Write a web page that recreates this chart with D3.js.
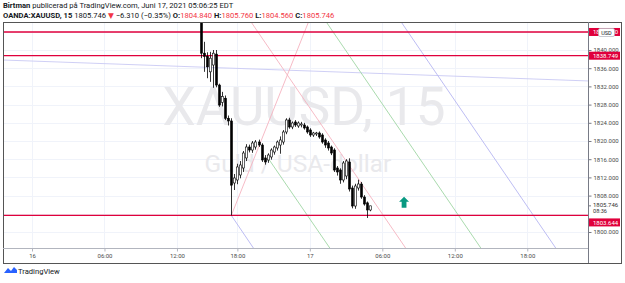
<!DOCTYPE html>
<html>
<head>
<meta charset="utf-8">
<script src="https://cdn.jsdelivr.net/npm/d3@7"></script>
<style>
  body { margin: 0; background: #fff; }
  svg { display: block; font-family: Roboto, "DejaVu Sans", sans-serif; }
</style>
</head>
<body>
<svg id="chart" width="625" height="283"></svg>
<script>
// candles, 15 min bars, index counted from "16" tick
var barIndex = [56,57,58,59,60,61,62,63,64,65,66,67,68,69,70,71,72,73,74,75,76,77,78,79,80,81,82,83,84,
  85,86,87,88,89,90,91,92,93,94,95,96,97,98,99,100,101,102,103,104,105,106,107,108,109,110,111,112];
var opens = [1848.5,1839.3,1838.6,1835.2,1836.7,1839.1,1832.3,1828.5,1829.4,1825.0,1824.4,1810.77,1811.43,
  1812.53,1814.07,1816.27,1818.68,1818.02,1818.68,1819.78,1819.12,1816.27,1815.83,1816.49,1817.58,1818.46,
  1819.12,1819.78,1821.98,1824.62,1823.08,1824.18,1823.30,1823.52,1823.52,1823.08,1822.42,1821.32,1821.54,
  1821.76,1821.32,1820.22,1819.56,1818.68,1818.02,1814.07,1813.63,1811.43,1812.31,1815.39,1809.67,1805.71,
  1809.67,1810.55,1807.69,1806.4,1804.84];
var highs = [1849.6,1841.8,1839.5,1839.6,1840.0,1840.0,1832.6,1830.8,1830.0,1825.6,1825.0,1812.75,1815.0,
  1815.6,1817.8,1819.3,1819.2,1820.0,1820.2,1820.3,1819.5,1816.9,1817.3,1818.4,1819.0,1820.1,1821.0,1822.4,
  1825.0,1825.1,1824.3,1824.6,1824.3,1824.2,1824.0,1823.4,1822.8,1822.0,1822.0,1822.1,1821.7,1820.6,1820.0,
  1819.0,1818.4,1814.5,1814.0,1815.6,1816.0,1816.2,1810.2,1810.6,1811.5,1811.0,1808.1,1806.7,1805.76];
var lows = [1838.2,1835.2,1833.8,1833.0,1831.7,1831.8,1827.5,1827.6,1824.6,1823.4,1803.644,1809.23,1810.5,
  1811.8,1813.2,1815.6,1817.5,1817.4,1818.1,1818.7,1815.4,1814.8,1815.2,1815.9,1817.0,1817.9,1817.2,1819.2,
  1821.5,1822.7,1822.6,1823.1,1822.9,1823.0,1822.5,1821.6,1820.9,1820.9,1821.1,1820.5,1819.4,1818.5,1817.9,
  1816.9,1813.2,1812.4,1810.6,1810.9,1811.6,1808.9,1805.2,1805.1,1809.1,1807.3,1805.8,1803.08,1804.56];
var closes = [1839.3,1838.6,1836.3,1838.2,1839.3,1832.3,1827.9,1829.8,1825.0,1824.4,1810.3,1811.87,1814.29,
  1814.73,1817.36,1818.68,1818.02,1819.56,1819.78,1819.12,1815.83,1815.39,1816.92,1818.02,1818.68,1819.78,
  1820.22,1821.98,1824.62,1823.08,1823.96,1823.52,1823.96,1823.74,1822.86,1821.98,1821.32,1821.76,1821.76,
  1820.88,1819.78,1819.12,1818.46,1817.36,1813.63,1813.19,1811.43,1815.17,1815.61,1809.45,1805.71,1810.11,
  1810.55,1807.69,1806.15,1804.84,1805.746];

var priceTicks = [1800,1804,1808,1812,1816,1820,1824,1828,1832,1836,1840,1844];
var priceLabels = [1800,1808,1812,1816,1820,1824,1828,1832,1836,1840];
var timeTickBars = [0,24,48,68,92,116,140,164];
var timeTickLabels = ["16","06:00","12:00","18:00","17","06:00","12:00","18:00"];

var levels = [1843.96, 1838.749, 1803.644];
var lastPrice = 1805.746;

// drawings: [bar1, price1, bar2, price2, colour]
var drawings = [
  [-9.6, 1837.8, 184.1, 1833.2, "#c9c9f4"],
  [66, 1803.644, 92, 1846.9, "#f5b3c0"],
  [72.5, 1846.2, 124, 1796.2, "#f5b3c0"],
  [78.1, 1816.3, 98.9, 1796.2, "#9fd6a4"],
  [97.4, 1846.2, 148.9, 1796.2, "#9fd6a4"],
  [122.2, 1846.2, 173.7, 1796.2, "#b5b5f2"],
  [66, 1803.644, 73.6, 1796.2, "#b5b5f2"]
];
var arrowPoint = [123.2, 1806.2];

var svg = d3.select("#chart");
var L = 3, R = 588, T = 22, B = 248;

var x = d3.scaleLinear().domain([0, 100]).range([32, 334]);
var y = d3.scaleLinear().domain([1800, 1840]).range([232, 50]);

// header
var head = svg.append("text").attr("x", 3).attr("y", 8).attr("font-size", 7.6).attr("fill", "#131722");
head.append("tspan").attr("font-weight", "bold").text("Birtman");
head.append("tspan").text(" publicerad på TradingView.com, Juni 17, 2021 05:06:25 EDT");

var head2 = svg.append("text").attr("x", 3).attr("y", 18).attr("font-size", 7.6).attr("fill", "#131722");
head2.append("tspan").attr("font-weight", "bold").text("OANDA:XAUUSD, 15");
head2.append("tspan").text("  1805.746 ");
head2.append("tspan").attr("fill", "#f23645").text("▼");
head2.append("tspan").text(" −6.310 (−0.35%)  ");
var ohlc = [["O:", "1804.840"], ["H:", "1805.760"], ["L:", "1804.560"], ["C:", "1805.746"]];
ohlc.forEach(function(d, i) {
  head2.append("tspan").attr("font-weight", "bold").text((i ? " " : "") + d[0]);
  head2.append("tspan").attr("fill", "#f23645").text(d[1]);
});

// clip
svg.append("clipPath").attr("id", "plot").append("rect")
  .attr("x", L).attr("y", T).attr("width", R - L).attr("height", B - T);

// grid
var grid = svg.append("g").attr("clip-path", "url(#plot)");
grid.selectAll(".hg").data(priceTicks).enter().append("line")
  .attr("x1", L).attr("x2", R)
  .attr("y1", function(d) { return Math.round(y(d)) + 0.5; })
  .attr("y2", function(d) { return Math.round(y(d)) + 0.5; })
  .attr("stroke", "#f0f3fa");
grid.selectAll(".vg").data(timeTickBars).enter().append("line")
  .attr("y1", T).attr("y2", B)
  .attr("x1", function(d) { return Math.round(x(d)) + 0.5; })
  .attr("x2", function(d) { return Math.round(x(d)) + 0.5; })
  .attr("stroke", "#f0f3fa");

// watermark
svg.append("text").attr("x", 304).attr("y", 125).attr("text-anchor", "middle")
  .attr("font-size", 53).attr("fill", "#e9e9ec").text("XAUUSD, 15");
svg.append("text").attr("x", 298).attr("y", 172).attr("text-anchor", "middle")
  .attr("font-size", 24.5).attr("fill", "#e9e9ec").text("Guld / USA-dollar");

var plot = svg.append("g").attr("clip-path", "url(#plot)");

// trend drawings
plot.selectAll(".dr").data(drawings).enter().append("line")
  .attr("x1", function(d) { return x(d[0]); })
  .attr("y1", function(d) { return y(d[1]); })
  .attr("x2", function(d) { return x(d[2]); })
  .attr("y2", function(d) { return y(d[3]); })
  .attr("stroke", function(d) { return d[4]; })
  .attr("stroke-width", 0.9);

// horizontal levels
plot.selectAll(".lv").data(levels).enter().append("line")
  .attr("x1", L).attr("x2", R)
  .attr("y1", function(d) { return y(d); })
  .attr("y2", function(d) { return y(d); })
  .attr("stroke", "#e0003c").attr("stroke-width", 1.3);

// candles
var candles = barIndex.map(function(b, i) {
  return { b: b, o: opens[i], h: highs[i], l: lows[i], c: closes[i] };
});
var cg = plot.selectAll(".cd").data(candles).enter().append("g");
cg.append("line")
  .attr("x1", function(d) { return Math.round(x(d.b)) + 0.5; })
  .attr("x2", function(d) { return Math.round(x(d.b)) + 0.5; })
  .attr("y1", function(d) { return y(d.h); })
  .attr("y2", function(d) { return y(d.l); })
  .attr("stroke", "#000").attr("stroke-width", 0.8);
cg.append("rect")
  .attr("x", function(d) { return Math.round(x(d.b)) - 0.5; })
  .attr("width", 2)
  .attr("y", function(d) { return y(Math.max(d.o, d.c)); })
  .attr("height", function(d) { return Math.max(0.8, Math.abs(y(d.o) - y(d.c))); })
  .attr("fill", function(d) { return d.c < d.o ? "#000" : "#fff"; })
  .attr("stroke", "#000").attr("stroke-width", 0.6);

// green arrow
var ax = x(arrowPoint[0]), ay = y(arrowPoint[1]);
plot.append("path")
  .attr("d", "M" + ax + "," + (ay - 7) + "l5,5h-2.6v6h-4.8v-6h-2.6z")
  .attr("fill", "#089981");

// frame
svg.append("rect").attr("x", L + 0.5).attr("y", T + 0.5).attr("width", 621 - L).attr("height", 263 - T)
  .attr("fill", "none").attr("stroke", "#555").attr("stroke-width", 1);
svg.append("line").attr("x1", L).attr("x2", R).attr("y1", B + 0.5).attr("y2", B + 0.5)
  .attr("stroke", "#b2b5be");

// price axis
var yAxis = d3.axisRight(y).tickValues(priceLabels).tickSize(3).tickPadding(2)
  .tickFormat(d3.format(".3f"));
var ya = svg.append("g").attr("transform", "translate(" + (R + 0.5) + ",0)").call(yAxis);
ya.select(".domain").remove();
ya.append("line").attr("y1", T).attr("y2", 263).attr("stroke", "#787b86");
ya.selectAll(".tick line").attr("stroke", "#787b86");
ya.selectAll(".tick text").attr("font-size", 6).attr("fill", "#4a4a4a").attr("font-family", "Roboto, sans-serif");

// time axis
var xAxis = d3.axisBottom(x).tickValues(timeTickBars).tickSize(3).tickPadding(2)
  .tickFormat(function(d, i) { return timeTickLabels[i]; });
var xa = svg.append("g").attr("transform", "translate(0," + (B + 0.5) + ")").call(xAxis);
xa.select(".domain").remove();
xa.selectAll(".tick line").attr("stroke", "#b2b5be");
xa.selectAll(".tick text").attr("font-size", 6).attr("fill", "#4a4a4a").attr("font-family", "Roboto, sans-serif");

// level badges
var badgeY = [y(levels[0]), y(levels[1]), y(levels[2]) + 7];
levels.forEach(function(v, i) {
  var g = svg.append("g").attr("transform", "translate(" + (R + 1) + "," + badgeY[i] + ")");
  g.append("rect").attr("x", 0).attr("y", -4).attr("width", 31).attr("height", 8).attr("fill", "#e0003c");
  g.append("text").attr("x", 4).attr("y", 2.2).attr("font-size", 6).attr("fill", "#fff").text(d3.format(".3f")(v));
});

// last price label
svg.append("text").attr("x", R + 5).attr("y", y(lastPrice) + 1.5).attr("font-size", 6)
  .attr("fill", "#333").text(d3.format(".3f")(lastPrice));
svg.append("text").attr("x", R + 5).attr("y", y(lastPrice) + 7.5).attr("font-size", 5.6)
  .attr("fill", "#333").text("08:36");
svg.append("line").attr("x1", R).attr("x2", R + 3).attr("y1", y(lastPrice)).attr("y2", y(lastPrice))
  .attr("stroke", "#787b86");

// USD badge
svg.append("rect").attr("x", 598.5).attr("y", 28.5).attr("width", 16).attr("height", 8).attr("rx", 1.5)
  .attr("fill", "#fff").attr("stroke", "#b2b5be").attr("stroke-width", 0.7);
svg.append("text").attr("x", 606.5).attr("y", 34.6).attr("text-anchor", "middle").attr("font-size", 5.5)
  .attr("fill", "#131722").text("USD");

// logo
svg.append("path").attr("d", "M4,273 l4,-5 l3,3 l3,-4 l3,3 v3 z").attr("fill", "#2962ff");
svg.append("text").attr("x", 18).attr("y", 274).attr("font-size", 7.6).attr("fill", "#131722")
  .text("TradingView");
</script>
</body>
</html>
